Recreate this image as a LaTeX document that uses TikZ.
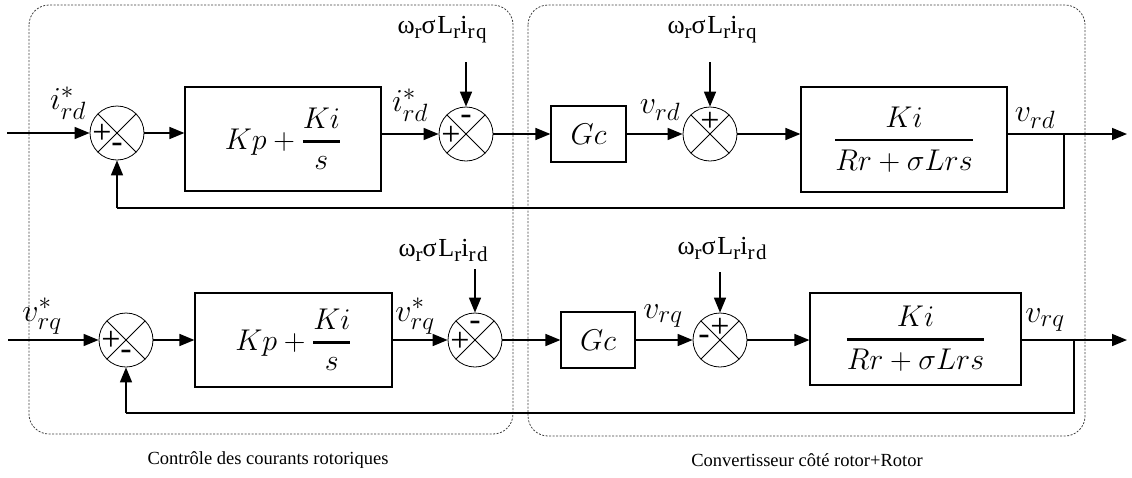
\RequirePackage{fix-cm}
\documentclass[tikz,border=0pt]{standalone}
\usepackage{amsmath}
\usepackage{fontspec}
\newfontfamily\serif{Liberation Serif}
\newfontfamily\distfont[LetterSpace=7]{Liberation Serif}
\usetikzlibrary{arrows.meta,calc}
\DeclareMathSizes{30}{30}{23}{17}
\DeclareMathSizes{32}{32}{25}{18}

% upright subscript used in the coupling-term labels
\newcommand{\lsub}[1]{\raisebox{-5pt}{\fontsize{21}{21}\selectfont #1}}

\tikzset{
  sumnode/.style={circle,draw,line width=0.8pt,minimum size=54pt,inner sep=0pt},
  blk/.style={draw,line width=1.2pt,inner sep=0pt,font=\fontsize{30}{34}\selectfont},
  sig/.style={line width=1.6pt,-{Triangle[length=15pt,width=12pt]}},
  wire/.style={line width=1.6pt},
  grp/.style={draw=black!75,line width=0.8pt,dash pattern=on 2pt off 1.5pt,rounded corners=20pt},
  lbl/.style={font=\fontsize{32}{36}\selectfont,inner sep=0pt},
  dist/.style={font=\distfont\fontsize{26}{30}\selectfont,inner sep=0pt},
  sgn/.style={font=\serif\fontsize{34}{34}\selectfont,inner sep=0pt},
  captext/.style={font=\serif\fontsize{18.5}{22}\selectfont,inner sep=0pt}
}
\newcommand{\crossit}[1]{%
  \draw[line width=0.8pt] (#1.north east) -- (#1.south west);
  \draw[line width=0.8pt] (#1.north west) -- (#1.south east);}

\begin{document}
\begin{tikzpicture}[x=1pt,y=-1pt]
\useasboundingbox (0,0) rectangle (1132,477);

% grouping frames
\draw[grp] (29,5) rectangle (513,434);
\draw[grp] (528,5) rectangle (1085,436);
\node[captext] (capL) at (268,460) {Contrôle des courants rotoriques};
\node[captext] (capR) at (807,460) {Convertisseur côté rotor+Rotor};

% ---------------- d-axis loop ----------------
\coordinate (in1) at (7,133);
\node[sumnode] (s11) at (117,133) {};
\node[blk,minimum width=196pt,minimum height=104pt] (pi1) at (283,139)
  {$Kp+\genfrac{}{}{2.6pt}{0}{Ki}{s}$};
\node[sumnode] (s12) at (466,134) {};
\node[blk,minimum width=75pt,minimum height=56pt] (gc1) at (588.5,134) {$Gc$};
\node[sumnode] (s13) at (710,134) {};
\node[blk,minimum width=206pt,minimum height=105pt] (g1) at (904,139.5)
  {$\genfrac{}{}{2.8pt}{0}{Ki}{Rr+\sigma Lrs}$};
\coordinate (out1) at (1127,134);
\coordinate (br1) at (1064,134);
\coordinate (fb1) at (1064,208);

\foreach \s in {s11,s12,s13} {\crossit{\s}}

\node[sgn] at ($(s11)+(-15,1)$) {+};
\node[sgn] at ($(s11)+(0,15)$) {-};
\node[sgn] at ($(s12)+(0,-14)$) {-};
\node[sgn] at ($(s12)+(-15,2)$) {+};
\node[sgn] at ($(s13)+(0,-12)$) {+};

\draw[sig] (in1) -- (s11.west);
\draw[sig] (s11.east) -- (s11.east -| pi1.west);
\draw[sig] (pi1.east |- s12.west) -- (s12.west);
\draw[sig] (s12.east) -- (gc1.west);
\draw[sig] (gc1.east) -- (s13.west);
\draw[sig] (s13.east) -- (s13.east -| g1.west);
\draw[sig] (g1.east |- out1) -- (out1);
\draw[wire] (br1) -- (fb1) -- (fb1 -| s11.south);
\draw[sig] (fb1 -| s11.south) -- (s11.south);

\coordinate (d12) at (466,62);
\coordinate (d13) at (710,62);
\draw[sig] (d12) -- (s12.north);
\draw[sig] (d13) -- (s13.north);
\node[dist] (t12) at (442,30) {ω\lsub{r}σL\lsub{r}i\lsub{rq}};
\node[dist] (t13) at (712,30) {ω\lsub{r}σL\lsub{r}i\lsub{rq}};

\node[lbl] (l11) at (68,103) {$i^*_{rd}$};
\node[lbl] (l12) at (410,105) {$i^*_{rd}$};
\node[lbl] (l13) at (660,110) {$v_{rd}$};
\node[lbl] (l14) at (1035,118) {$v_{rd}$};

% ---------------- q-axis loop ----------------
\coordinate (in2) at (8,340);
\node[sumnode] (s21) at (126,340) {};
\node[blk,minimum width=197pt,minimum height=94pt] (pi2) at (293.5,340)
  {$Kp+\genfrac{}{}{2.6pt}{0}{Ki}{s}$};
\node[sumnode] (s22) at (475,340) {};
\node[blk,minimum width=74pt,minimum height=56pt] (gc2) at (598,340) {$Gc$};
\node[sumnode] (s23) at (720,340) {};
\node[blk,minimum width=211pt,minimum height=92pt] (g2) at (915.5,339)
  {$\genfrac{}{}{2.8pt}{0}{Ki}{Rr+\sigma Lrs}$};
\coordinate (out2) at (1127,340);
\coordinate (br2) at (1074,340);
\coordinate (fb2) at (1074,413);

\foreach \s in {s21,s22,s23} {\crossit{\s}}

\node[sgn] at ($(s21)+(-15,1)$) {+};
\node[sgn] at ($(s21)+(0,15)$) {-};
\node[sgn] at ($(s22)+(0,-14)$) {-};
\node[sgn] at ($(s22)+(-15,2)$) {+};
\node[sgn] at ($(s23)+(0,-12)$) {+};
\node[sgn] at ($(s23)+(-16,0)$) {-};

\draw[sig] (in2) -- (s21.west);
\draw[sig] (s21.east) -- (pi2.west);
\draw[sig] (pi2.east) -- (s22.west);
\draw[sig] (s22.east) -- (gc2.west);
\draw[sig] (gc2.east) -- (s23.west);
\draw[sig] (s23.east) -- (s23.east -| g2.west);
\draw[sig] (g2.east |- out2) -- (out2);
\draw[wire] (br2) -- (fb2) -- (fb2 -| s21.south);
\draw[sig] (fb2 -| s21.south) -- (s21.south);

\coordinate (d22) at (475,269);
\coordinate (d23) at (720,272);
\draw[sig] (d22) -- (s22.north);
\draw[sig] (d23) -- (s23.north);
\node[dist] (t22) at (443,250) {ω\lsub{r}σL\lsub{r}i\lsub{rd}};
\node[dist] (t23) at (722,248) {ω\lsub{r}σL\lsub{r}i\lsub{rd}};

\node[lbl] (l21) at (42,316) {$v^*_{rq}$};
\node[lbl] (l22) at (415,316) {$v^*_{rq}$};
\node[lbl] (l23) at (663,316) {$v_{rq}$};
\node[lbl] (l24) at (1045,320) {$v_{rq}$};
\end{tikzpicture}
\end{document}
